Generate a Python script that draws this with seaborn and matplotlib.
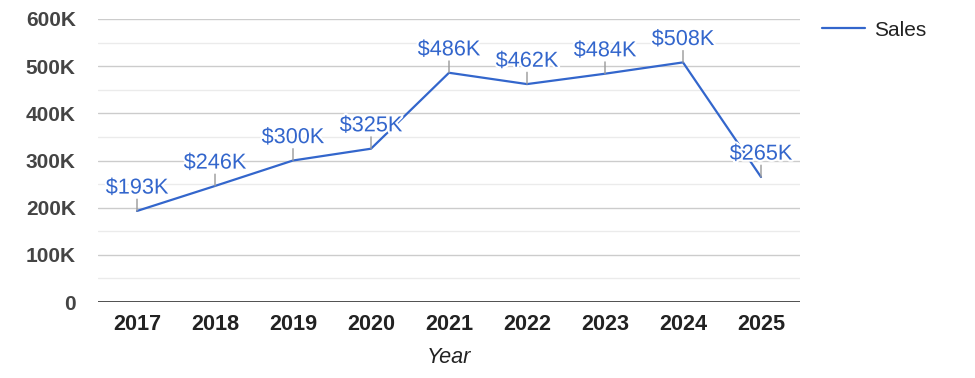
import pandas as pd
import numpy as np
import matplotlib
matplotlib.use("Agg")
import matplotlib.pyplot as plt
import matplotlib.patheffects as pe
import seaborn as sns

# data
years = ["2017", "2018", "2019", "2020", "2021", "2022", "2023", "2024", "2025"]
sales = [193000, 246000, 300000, 325000, 486000, 462000, 484000, 508000, 265000]
labels = ["$193K", "$246K", "$300K", "$325K", "$486K", "$462K", "$484K", "$508K", "$265K"]
ytick_vals = [0, 100000, 200000, 300000, 400000, 500000, 600000]
ytick_labels = ["0", "100K", "200K", "300K", "400K", "500K", "600K"]

df = pd.DataFrame({"Year": years, "Sales": sales})

sns.set_theme(style="white")
plt.rcParams['font.family'] = ['Liberation Sans', 'DejaVu Sans']

blue = "#3366CC"
fs = 15.6
fig = plt.figure(figsize=(9.75, 3.78), dpi=100)
ax = fig.add_axes([98/975, 1-302/378, (800-98)/975, (302-19)/378])

sns.lineplot(data=df, x="Year", y="Sales", ax=ax, color=blue, linewidth=1.6,
             label="Sales", legend=False, sort=False)

ax.set_xlim(-0.5, len(years) - 0.5)
ax.set_ylim(0, 600000)

# gridlines
ax.set_yticks(ytick_vals)
ax.set_yticklabels(ytick_labels)
ax.set_yticks(np.arange(50000, 600000, 100000), minor=True)
ax.grid(axis="y", which="major", color="#cccccc", linewidth=1)
ax.grid(axis="y", which="minor", color="#ebebeb", linewidth=1)
ax.grid(axis="x", visible=False)
ax.set_axisbelow(True)
ax.axhline(0, color="#333333", linewidth=1.2, zorder=3)
for s in ax.spines.values():
    s.set_visible(False)

ax.tick_params(axis="y", which="both", length=0, pad=16, labelsize=15, labelcolor="#444444")
ax.tick_params(axis="x", length=0, pad=9, labelsize=fs, labelcolor="#222222")
for t in ax.get_yticklabels() + ax.get_xticklabels():
    t.set_fontweight("bold")

ax.set_ylabel("")
ax.set_xlabel("Year", fontsize=fs, fontstyle="italic", color="#222222", labelpad=8)

# value labels with small stems
for i, (v, lab) in enumerate(zip(sales, labels)):
    ax.annotate("", xy=(i, v), xytext=(0, 8.5), textcoords="offset points",
                arrowprops=dict(arrowstyle="-", color="#999999", lw=1, shrinkA=0, shrinkB=0))
    ax.annotate(lab, xy=(i, v), xytext=(0, 12.5), textcoords="offset points",
                ha="center", va="baseline", fontsize=fs, color=blue, zorder=5,
                path_effects=[pe.withStroke(linewidth=3, foreground="white")])

handles, _ = ax.get_legend_handles_labels()
fig.legend(handles, ["Sales"], loc="center left", bbox_to_anchor=(822/975, 1-30/378),
           frameon=False, fontsize=15, handlelength=2.07, handletextpad=0.42,
           borderpad=0, borderaxespad=0, labelcolor="#222222")

fig.savefig("out.png", dpi=100)
